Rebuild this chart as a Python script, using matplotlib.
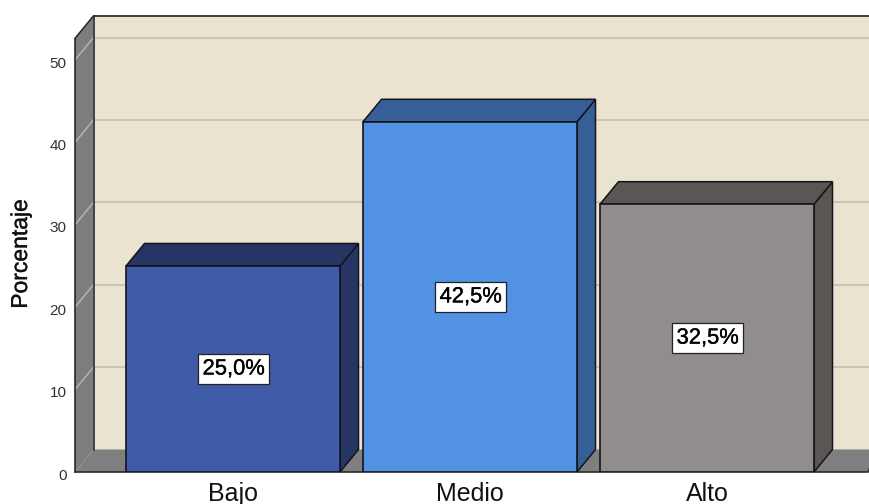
import matplotlib
matplotlib.use("Agg")
import matplotlib.pyplot as plt
import matplotlib.patheffects as pe
from matplotlib.transforms import ScaledTranslation

categories = ["Bajo", "Medio", "Alto"]
values = [25.0, 42.5, 32.5]
labels = ["25,0%", "42,5%", "32,5%"]
y_ticks = [0, 10, 20, 30, 40, 50]
front_colors = ["#3f5ba8", "#5292e2", "#928d8d"]
side_colors = ["#263564", "#365f98", "#5a5653"]

W, H = 870, 504
plt.rcParams["font.family"] = ["Liberation Sans", "DejaVu Sans"]
fig = plt.figure(figsize=(W / 100, H / 100), dpi=100, facecolor="white")

# axes = the front plane of the 3D box (pixel layout)
L, R, B, T = 75, 870, 472, 38.5
ax = fig.add_axes([L / W, 1 - B / H, (R - L) / W, (B - T) / H])
px_per_y = 8.24
px_per_x = 237.0
ax.set_ylim(0, (B - T) / px_per_y)
ax.set_xlim((L - 233) / px_per_x, (R - 233) / px_per_x)
dx = 18.5 / px_per_x
dy = 22.5 / px_per_y
x0, x1 = ax.get_xlim()
ymax = ax.get_ylim()[1]
bar_w = 214 / px_per_x
edge = "#14141e"

# walls
ax.fill([x0 + dx, x1 + 1, x1 + 1, x0 + dx], [dy, dy, ymax + dy, ymax + dy],
        fc="#e9e3cf", ec="none", zorder=1, clip_on=False)
ax.fill([x0, x0 + dx, x0 + dx, x0], [0, dy, ymax + dy, ymax],
        fc="#7d7d7d", ec="none", zorder=2, clip_on=False)
ax.fill([x0, x0 + dx, x1 + 1, x1 - 0.008], [0, dy, dy, 0],
        fc="#7f7f7f", ec="none", zorder=2, clip_on=False)

# grid
for t in y_ticks + [ymax]:
    if t == 0:
        continue
    ax.plot([x0 + dx, x1 + 1], [t + dy, t + dy], color="#c9c4b5", lw=1.4, zorder=1.5, clip_on=False)
    ax.plot([x0, x0 + dx], [t, t + dy], color="#b4b4b0", lw=1.1, zorder=2.5, clip_on=False)

# box outline
ax.plot([x0, x0 + dx, x1 + 1], [ymax, ymax + dy, ymax + dy], color="#2a2a2a", lw=1.2, zorder=3, clip_on=False)
ax.plot([x0, x0], [0, ymax], color="#2a2a2a", lw=1.2, zorder=3, clip_on=False)
ax.plot([x0 + dx, x0 + dx], [dy, ymax + dy], color="#2a2a2a", lw=1.2, zorder=3, clip_on=False)
ax.plot([x0, x1 - 0.008, x1], [0, 0, 0.6], color="#2a2a2a", lw=1.2, zorder=3, clip_on=False)

# bars
xs = list(range(len(categories)))
for i, v in zip(xs, values):
    a, b = i - bar_w / 2, i + bar_w / 2
    ax.fill([b, b + dx, b + dx, b], [0, dy, v + dy, v],
            fc=side_colors[i], ec=edge, lw=1.1, zorder=4, clip_on=False)
    ax.fill([a, a + dx, b + dx, b], [v, v + dy, v + dy, v],
            fc=side_colors[i], ec=edge, lw=1.1, zorder=4, clip_on=False)
ax.bar(xs, values, width=bar_w, color=front_colors, edgecolor=edge, linewidth=1.2, zorder=5)

for i, (v, s) in enumerate(zip(values, labels)):
    ax.text(i + 0.003, v / 2, s, ha="center", va="center", fontsize=15.8, color="black", zorder=7,
            path_effects=[pe.withStroke(linewidth=0.25, foreground="black")],
            bbox=dict(boxstyle="square,pad=0.2", fc="white", ec="#222222", lw=0.9))

for sp in ax.spines.values():
    sp.set_visible(False)
ax.patch.set_visible(False)
ax.set_yticks(y_ticks)
ax.set_yticklabels([str(t) for t in y_ticks], fontsize=11, color="#333333")
ax.set_xticks(xs)
ax.set_xticklabels(categories, fontsize=18, color="#111111")
ax.tick_params(axis="both", length=0)
ax.tick_params(axis="y", pad=6)
ax.tick_params(axis="x", pad=7)
shift = ScaledTranslation(0, -2 / 100, fig.dpi_scale_trans)
for lab in ax.get_yticklabels():
    lab.set_transform(lab.get_transform() + shift)
ax.set_ylabel("Porcentaje", fontsize=16.5, color="#111111",
              path_effects=[pe.withStroke(linewidth=0.25, foreground="#111111")])
ax.yaxis.set_label_coords((32 - L) / (R - L), (B - 254) / (B - T))

fig.savefig("out.png", dpi=100)
